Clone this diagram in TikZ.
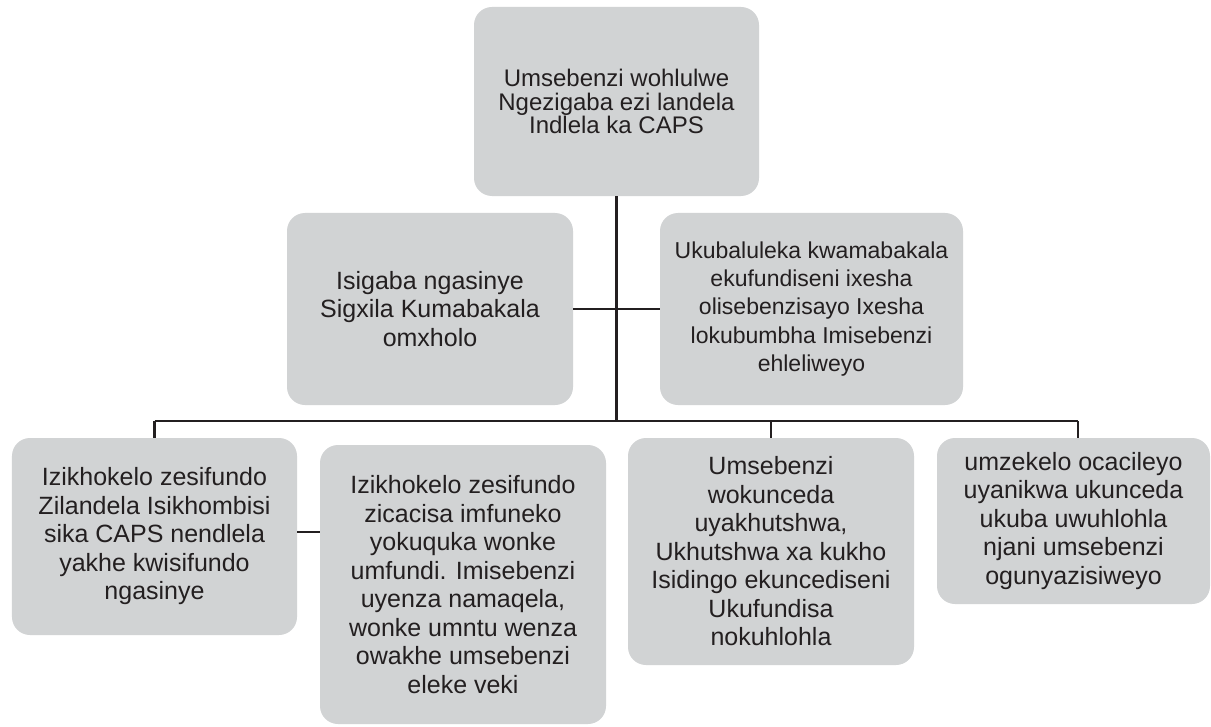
\documentclass[tikz,border=0pt]{standalone}
\usepackage{fontspec}
\setmainfont{Liberation Sans}
\definecolor{boxfill}{HTML}{D1D3D4}
\definecolor{ink}{HTML}{231F20}
\begin{document}
\begin{tikzpicture}[x=1bp,y=-1bp,
  box/.style={draw=none, fill=boxfill, rounded corners=18bp, inner sep=0pt, align=center, text=ink,
    font=\fontsize{25bp}{28.5bp}\selectfont},
  topfont/.style={font=\fontsize{24bp}{23.5bp}\selectfont},
  midfont/.style={font=\fontsize{23bp}{28.3bp}\selectfont},
  link/.style={draw=ink, line width=2.4bp}]
\fill[white] (0,0) rectangle (1211,727);
\useasboundingbox (0,0) rectangle (1211,727);

\node[box, topfont, minimum width=285bp, minimum height=189bp] (top) at (616.5,101.5)
  {Umsebenzi wohlulwe\\Ngezigaba ezi landela\\Indlela ka CAPS};
\node[box, minimum width=286bp, minimum height=192bp] (midL) at (430,309)
  {Isigaba ngasinye\\Sigxila Kumabakala\\omxholo};
\node[box, midfont, minimum width=303bp, minimum height=192bp] (midR) at (811.5,309)
  {Ukubaluleka kwamabakala\\ekufundiseni ixesha\\olisebenzisayo Ixesha\\lokubumbha Imisebenzi\\ehleliweyo};
\node[box, minimum width=285bp, minimum height=197bp] (b1) at (154.5,536.5)
  {Izikhokelo zesifundo\\Zilandela Isikhombisi\\sika CAPS nendlela\\yakhe kwisifundo\\ngasinye};
\node[box, minimum width=286bp, minimum height=279bp] (b2) at (463,584.5)
  {Izikhokelo zesifundo\\zicacisa imfuneko\\yokuquka wonke\\umfundi. Imisebenzi\\uyenza namaqela,\\wonke umntu wenza\\owakhe umsebenzi\\eleke veki};
\node[box, minimum width=286bp, minimum height=227bp] (b3) at (771,551.5)
  {Umsebenzi\\wokunceda\\uyakhutshwa,\\Ukhutshwa xa kukho\\Isidingo ekuncediseni\\Ukufundisa\\nokuhlohla};
\node[box, minimum width=273bp, minimum height=166bp] (b4) at (1073.5,521)
  {umzekelo ocacileyo\\uyanikwa ukunceda\\ukuba uwuhlohla\\njani umsebenzi\\ogunyazisiweyo};

\coordinate (hL) at (154.5,421);
\coordinate (hR) at (1078,421);
\coordinate (c12) at (297,532);

\draw[link] (top.south) -- (top.south |- hL);
\draw[link] (midL.east) -- (midR.west);
\draw[link] (hL) -- (hR);
\draw[link] (hL) -- (b1.north);
\draw[link] (b3.north |- hL) -- (b3.north);
\draw[link] (hR) -- (hR |- b4.north);
\draw[link] (c12) -- (c12 -| b2.west);
\end{tikzpicture}
\end{document}
